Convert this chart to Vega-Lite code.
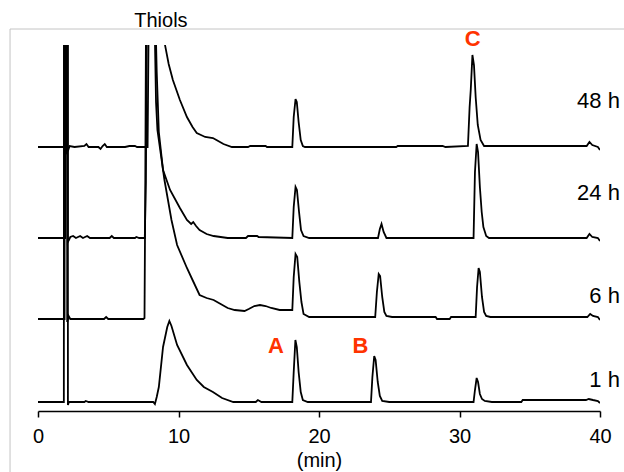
{
 "$schema": "https://vega.github.io/schema/vega-lite/v6.json",
 "width": 562,
 "height": 366,
 "autosize": {"type": "none"},
 "padding": {"left": 38, "top": 45, "right": 24, "bottom": 61},
 "config": {"view": {"stroke": null}, "font": "Liberation Sans"},
 "data": {"values": [
   {"s":"48 h","t":0,"v":255},{"s":"48 h","t":1.86,"v":255},{"s":"48 h","t":1.87,"v":420},{"s":"48 h","t":2.04,"v":420},{"s":"48 h","t":2.06,"v":250},{"s":"48 h","t":2.15,"v":252},{"s":"48 h","t":2.25,"v":256},{"s":"48 h","t":2.6,"v":255},{"s":"48 h","t":3.3,"v":256},{"s":"48 h","t":3.45,"v":258},{"s":"48 h","t":3.6,"v":255},{"s":"48 h","t":4.3,"v":255},{"s":"48 h","t":4.45,"v":253},{"s":"48 h","t":4.6,"v":256},{"s":"48 h","t":4.75,"v":258},{"s":"48 h","t":4.9,"v":255},{"s":"48 h","t":6.2,"v":255},{"s":"48 h","t":6.5,"v":256},{"s":"48 h","t":6.9,"v":256},{"s":"48 h","t":7.05,"v":255},{"s":"48 h","t":7.8,"v":255},{"s":"48 h","t":7.9,"v":420},{"s":"48 h","t":8.95,"v":420},{"s":"48 h","t":9.04,"v":357},{"s":"48 h","t":9.3,"v":338},{"s":"48 h","t":9.6,"v":322},{"s":"48 h","t":10.1,"v":302},{"s":"48 h","t":10.6,"v":285},{"s":"48 h","t":11.0,"v":275},{"s":"48 h","t":11.3,"v":269},{"s":"48 h","t":11.9,"v":265},{"s":"48 h","t":12.45,"v":264},{"s":"48 h","t":12.7,"v":262},{"s":"48 h","t":13.2,"v":258},{"s":"48 h","t":13.8,"v":255},{"s":"48 h","t":14.95,"v":255},{"s":"48 h","t":15.1,"v":256},{"s":"48 h","t":16.2,"v":256},{"s":"48 h","t":16.3,"v":255},{"s":"48 h","t":18.1,"v":255},{"s":"48 h","t":18.2,"v":285},{"s":"48 h","t":18.33,"v":303},{"s":"48 h","t":18.42,"v":300},{"s":"48 h","t":18.55,"v":280},{"s":"48 h","t":18.7,"v":262},{"s":"48 h","t":18.85,"v":256},{"s":"48 h","t":19.0,"v":255},{"s":"48 h","t":25.5,"v":255},{"s":"48 h","t":25.6,"v":256},{"s":"48 h","t":28.8,"v":256},{"s":"48 h","t":29.0,"v":255},{"s":"48 h","t":30.6,"v":256},{"s":"48 h","t":30.72,"v":295},{"s":"48 h","t":30.8,"v":312},{"s":"48 h","t":30.92,"v":347},{"s":"48 h","t":31.03,"v":337},{"s":"48 h","t":31.15,"v":305},{"s":"48 h","t":31.3,"v":277},{"s":"48 h","t":31.5,"v":262},{"s":"48 h","t":31.75,"v":256},{"s":"48 h","t":39.05,"v":256},{"s":"48 h","t":39.25,"v":260},{"s":"48 h","t":39.45,"v":257},{"s":"48 h","t":39.85,"v":255},{"s":"48 h","t":40.0,"v":252},
   {"s":"24 h","t":0,"v":164},{"s":"24 h","t":1.94,"v":164},{"s":"24 h","t":1.95,"v":420},{"s":"24 h","t":2.11,"v":420},{"s":"24 h","t":2.12,"v":160},{"s":"24 h","t":2.2,"v":162},{"s":"24 h","t":2.3,"v":165},{"s":"24 h","t":2.5,"v":166},{"s":"24 h","t":2.7,"v":164},{"s":"24 h","t":3.0,"v":166},{"s":"24 h","t":3.2,"v":164},{"s":"24 h","t":3.5,"v":166},{"s":"24 h","t":3.7,"v":164},{"s":"24 h","t":5.1,"v":164},{"s":"24 h","t":5.25,"v":166},{"s":"24 h","t":5.4,"v":164},{"s":"24 h","t":6.9,"v":164},{"s":"24 h","t":7.0,"v":165},{"s":"24 h","t":7.2,"v":164},{"s":"24 h","t":7.6,"v":164},{"s":"24 h","t":7.68,"v":220},{"s":"24 h","t":7.76,"v":420},{"s":"24 h","t":8.3,"v":420},{"s":"24 h","t":8.45,"v":330},{"s":"24 h","t":8.6,"v":270},{"s":"24 h","t":8.9,"v":232},{"s":"24 h","t":9.4,"v":212},{"s":"24 h","t":10.1,"v":194},{"s":"24 h","t":10.6,"v":182},{"s":"24 h","t":10.9,"v":178},{"s":"24 h","t":11.05,"v":180},{"s":"24 h","t":11.25,"v":176},{"s":"24 h","t":11.5,"v":172},{"s":"24 h","t":12.0,"v":168},{"s":"24 h","t":12.5,"v":166},{"s":"24 h","t":13.0,"v":165},{"s":"24 h","t":13.5,"v":164},{"s":"24 h","t":14.8,"v":164},{"s":"24 h","t":14.95,"v":166},{"s":"24 h","t":15.6,"v":166},{"s":"24 h","t":15.7,"v":165},{"s":"24 h","t":18.1,"v":164},{"s":"24 h","t":18.2,"v":195},{"s":"24 h","t":18.33,"v":215},{"s":"24 h","t":18.43,"v":212},{"s":"24 h","t":18.58,"v":190},{"s":"24 h","t":18.72,"v":172},{"s":"24 h","t":18.9,"v":166},{"s":"24 h","t":19.3,"v":164},{"s":"24 h","t":24.2,"v":164},{"s":"24 h","t":24.33,"v":173},{"s":"24 h","t":24.45,"v":178},{"s":"24 h","t":24.6,"v":170},{"s":"24 h","t":24.8,"v":164},{"s":"24 h","t":31.0,"v":164},{"s":"24 h","t":31.1,"v":230},{"s":"24 h","t":31.22,"v":258},{"s":"24 h","t":31.32,"v":250},{"s":"24 h","t":31.45,"v":215},{"s":"24 h","t":31.58,"v":190},{"s":"24 h","t":31.7,"v":175},{"s":"24 h","t":31.9,"v":166},{"s":"24 h","t":32.1,"v":164},{"s":"24 h","t":39.05,"v":164},{"s":"24 h","t":39.25,"v":168},{"s":"24 h","t":39.45,"v":165},{"s":"24 h","t":39.85,"v":164},{"s":"24 h","t":40.0,"v":161},
   {"s":"6 h","t":0,"v":83},{"s":"6 h","t":1.89,"v":83},{"s":"6 h","t":1.9,"v":420},{"s":"6 h","t":2.07,"v":420},{"s":"6 h","t":2.08,"v":80},{"s":"6 h","t":2.18,"v":86},{"s":"6 h","t":2.3,"v":83},{"s":"6 h","t":4.7,"v":83},{"s":"6 h","t":4.85,"v":85},{"s":"6 h","t":5.0,"v":83},{"s":"6 h","t":7.5,"v":83},{"s":"6 h","t":7.58,"v":84},{"s":"6 h","t":7.63,"v":200},{"s":"6 h","t":7.7,"v":420},{"s":"6 h","t":8.25,"v":420},{"s":"6 h","t":8.4,"v":300},{"s":"6 h","t":8.5,"v":272},{"s":"6 h","t":9.0,"v":222},{"s":"6 h","t":9.5,"v":182},{"s":"6 h","t":9.9,"v":157},{"s":"6 h","t":10.6,"v":134},{"s":"6 h","t":11.0,"v":122},{"s":"6 h","t":11.5,"v":107},{"s":"6 h","t":12.0,"v":104},{"s":"6 h","t":12.5,"v":102},{"s":"6 h","t":13.0,"v":98},{"s":"6 h","t":13.5,"v":94},{"s":"6 h","t":14.0,"v":92},{"s":"6 h","t":14.7,"v":91},{"s":"6 h","t":15.0,"v":93},{"s":"6 h","t":15.4,"v":96},{"s":"6 h","t":15.8,"v":97},{"s":"6 h","t":16.2,"v":96},{"s":"6 h","t":16.6,"v":94},{"s":"6 h","t":17.2,"v":92},{"s":"6 h","t":18.1,"v":92},{"s":"6 h","t":18.2,"v":125},{"s":"6 h","t":18.33,"v":148},{"s":"6 h","t":18.45,"v":145},{"s":"6 h","t":18.6,"v":120},{"s":"6 h","t":18.75,"v":100},{"s":"6 h","t":18.9,"v":88},{"s":"6 h","t":19.3,"v":85},{"s":"6 h","t":24.0,"v":85},{"s":"6 h","t":24.12,"v":110},{"s":"6 h","t":24.25,"v":128},{"s":"6 h","t":24.35,"v":126},{"s":"6 h","t":24.5,"v":105},{"s":"6 h","t":24.65,"v":90},{"s":"6 h","t":24.8,"v":86},{"s":"6 h","t":25.2,"v":85},{"s":"6 h","t":28.3,"v":85},{"s":"6 h","t":28.4,"v":83},{"s":"6 h","t":29.3,"v":83},{"s":"6 h","t":29.4,"v":85},{"s":"6 h","t":31.15,"v":85},{"s":"6 h","t":31.25,"v":115},{"s":"6 h","t":31.36,"v":134},{"s":"6 h","t":31.45,"v":130},{"s":"6 h","t":31.6,"v":105},{"s":"6 h","t":31.75,"v":90},{"s":"6 h","t":31.9,"v":86},{"s":"6 h","t":32.2,"v":85},{"s":"6 h","t":39.1,"v":85},{"s":"6 h","t":39.3,"v":88},{"s":"6 h","t":39.5,"v":86},{"s":"6 h","t":39.85,"v":85},{"s":"6 h","t":40.0,"v":82},
   {"s":"1 h","t":0,"v":0},{"s":"1 h","t":1.84,"v":0},{"s":"1 h","t":1.85,"v":420},{"s":"1 h","t":2.12,"v":420},{"s":"1 h","t":2.13,"v":-3},{"s":"1 h","t":2.2,"v":0},{"s":"1 h","t":3.3,"v":0},{"s":"1 h","t":3.4,"v":1},{"s":"1 h","t":3.6,"v":0},{"s":"1 h","t":8.2,"v":0},{"s":"1 h","t":8.32,"v":-2},{"s":"1 h","t":8.45,"v":5},{"s":"1 h","t":8.6,"v":15},{"s":"1 h","t":8.9,"v":55},{"s":"1 h","t":9.2,"v":75},{"s":"1 h","t":9.35,"v":81},{"s":"1 h","t":9.5,"v":76},{"s":"1 h","t":9.9,"v":57},{"s":"1 h","t":10.6,"v":37},{"s":"1 h","t":11.3,"v":22},{"s":"1 h","t":11.8,"v":15},{"s":"1 h","t":12.45,"v":10},{"s":"1 h","t":13.1,"v":4},{"s":"1 h","t":13.9,"v":0},{"s":"1 h","t":15.5,"v":0},{"s":"1 h","t":15.65,"v":2},{"s":"1 h","t":15.9,"v":0},{"s":"1 h","t":18.1,"v":0},{"s":"1 h","t":18.2,"v":30},{"s":"1 h","t":18.32,"v":62},{"s":"1 h","t":18.42,"v":55},{"s":"1 h","t":18.55,"v":30},{"s":"1 h","t":18.7,"v":10},{"s":"1 h","t":18.85,"v":2},{"s":"1 h","t":19.2,"v":0},{"s":"1 h","t":23.7,"v":0},{"s":"1 h","t":23.8,"v":25},{"s":"1 h","t":23.93,"v":46},{"s":"1 h","t":24.03,"v":42},{"s":"1 h","t":24.18,"v":20},{"s":"1 h","t":24.33,"v":6},{"s":"1 h","t":24.5,"v":1},{"s":"1 h","t":25.0,"v":0},{"s":"1 h","t":31.0,"v":0},{"s":"1 h","t":31.1,"v":12},{"s":"1 h","t":31.22,"v":24},{"s":"1 h","t":31.32,"v":20},{"s":"1 h","t":31.45,"v":8},{"s":"1 h","t":31.6,"v":3},{"s":"1 h","t":31.8,"v":1},{"s":"1 h","t":32.3,"v":0},{"s":"1 h","t":34.4,"v":0},{"s":"1 h","t":34.5,"v":2},{"s":"1 h","t":39.0,"v":2},{"s":"1 h","t":39.2,"v":3},{"s":"1 h","t":39.5,"v":2},{"s":"1 h","t":39.85,"v":1},{"s":"1 h","t":40.0,"v":-1}
 ]},
 "layer": [
  {
   "mark": {"type": "line", "color": "black", "strokeWidth": 1.8, "clip": true},
   "encoding": {
    "x": {"field": "t", "type": "quantitative", "scale": {"domain": [0, 40], "nice": false, "zero": false},
     "axis": {"values": [0, 10, 20, 30, 40], "title": "(min)", "grid": false,
      "domainColor": "black", "domainWidth": 1.5, "tickColor": "black", "tickWidth": 1.5, "tickSize": 6,
      "labelFontSize": 20, "labelColor": "black", "labelPadding": 9, "labelFlush": false, "labelOverlap": false,
      "titleFontSize": 20, "titleFontWeight": "normal", "titleColor": "black", "titlePadding": 4}},
    "y": {"field": "v", "type": "quantitative", "scale": {"domain": [-9, 357], "nice": false, "zero": false}, "axis": null},
    "detail": {"field": "s", "type": "nominal"}
   }
  },
  {
   "data": {"values": [{"left": -1.99, "right": 50, "top": 373, "bottom": -200}]},
   "mark": {"type": "rect", "filled": false, "color": "#c4c4c4", "strokeWidth": 1},
   "encoding": {
    "x": {"field": "left", "type": "quantitative"},
    "x2": {"field": "right"},
    "y": {"field": "top", "type": "quantitative"},
    "y2": {"field": "bottom"}
   }
  },
  {
   "data": {"values": [{"t": 8.75, "v": 381, "label": "Thiols"}]},
   "mark": {"type": "text", "fontSize": 20, "color": "black", "align": "center", "baseline": "middle"},
   "encoding": {"x": {"field": "t", "type": "quantitative"}, "y": {"field": "v", "type": "quantitative"}, "text": {"field": "label", "type": "nominal"}}
  },
  {
   "data": {"values": [{"t": 30.93, "v": 363, "label": "C"}, {"t": 16.94, "v": 56, "label": "A"}, {"t": 22.95, "v": 56, "label": "B"}]},
   "mark": {"type": "text", "fontSize": 22, "fontWeight": "bold", "color": "#ff3300", "align": "center", "baseline": "middle"},
   "encoding": {"x": {"field": "t", "type": "quantitative"}, "y": {"field": "v", "type": "quantitative"}, "text": {"field": "label", "type": "nominal"}}
  },
  {
   "data": {"values": [{"t": 41.42, "v": 301, "label": "48 h"}, {"t": 41.42, "v": 209, "label": "24 h"}, {"t": 41.42, "v": 106, "label": "6 h"}, {"t": 41.42, "v": 22, "label": "1 h"}]},
   "mark": {"type": "text", "fontSize": 22, "color": "black", "align": "right", "baseline": "middle"},
   "encoding": {"x": {"field": "t", "type": "quantitative"}, "y": {"field": "v", "type": "quantitative"}, "text": {"field": "label", "type": "nominal"}}
  }
 ]
}
